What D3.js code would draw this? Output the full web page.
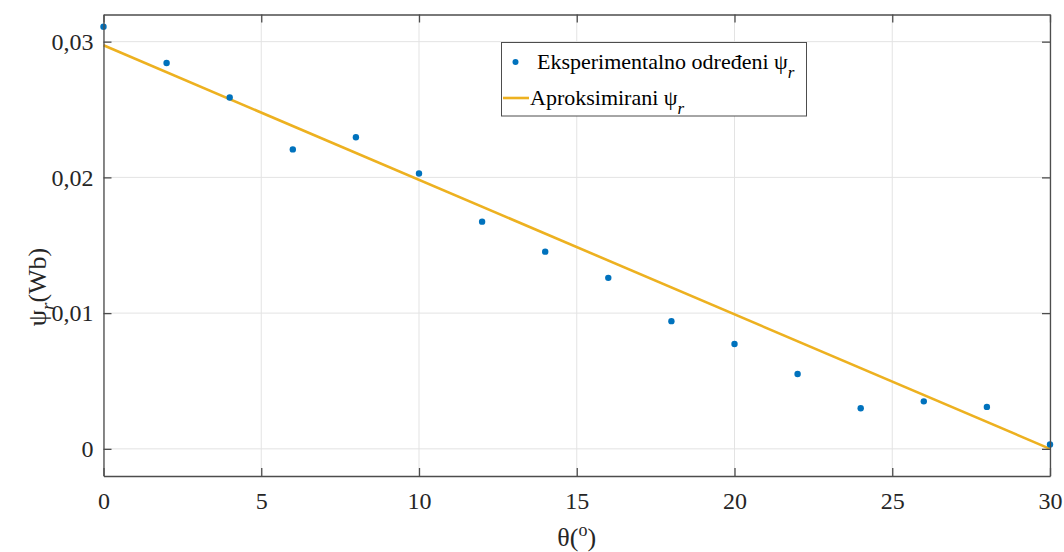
<!DOCTYPE html>
<html><head><meta charset="utf-8">
<script src="https://cdn.jsdelivr.net/npm/d3@7"></script>
<style>
html,body{margin:0;padding:0;background:#fff;}
</style></head>
<body><svg id="c" width="1064" height="552"></svg>
<script>
const thetaDeg = [0,2,4,6,8,10,12,14,16,18,20,22,24,26,28,30];
const psiMeasured = [0.03110,0.02843,0.02588,0.02206,0.02296,0.02029,0.01674,0.01453,0.01260,0.00941,0.00772,0.00551,0.00299,0.00350,0.00309,0.00032];
const fitTheta = [0,30];
const psiFit = [0.02973,0.0000];
const xTicks = [0,5,10,15,20,25,30];
const yTicks = [0,0.01,0.02,0.03];
const yTickLabels = ["0","0,01","0,02","0,03"];
const legendLabels = ["Eksperimentalno određeni ψ","Aproksimirani ψ"];

const svg = d3.select("#c");
const L=103.5, R=1050, T=14.5, B=476;
const x = d3.scaleLinear().domain([0,30]).range([L,R]);
const y = d3.scaleLinear().domain([-0.002,0.032]).range([B,T]);
const axisCol="#4d4d4d", gridCol="#e3e3e3";
const FONT="'Liberation Serif'";

// grid
const g = svg.append("g");
g.selectAll(".gx").data(xTicks).enter().append("line")
 .attr("x1",d=>x(d)).attr("x2",d=>x(d)).attr("y1",T).attr("y2",B)
 .attr("stroke",gridCol).attr("stroke-width",1);
g.selectAll(".gy").data(yTicks).enter().append("line")
 .attr("y1",d=>y(d)).attr("y2",d=>y(d)).attr("x1",L).attr("x2",R)
 .attr("stroke",gridCol).attr("stroke-width",1);

// fit line
svg.append("path").datum(fitTheta.map((t,i)=>[t,psiFit[i]]))
 .attr("d",d3.line().x(d=>x(d[0])).y(d=>y(d[1])))
 .attr("fill","none").attr("stroke","#EDB120").attr("stroke-width",2.6);

// points
svg.selectAll(".pt").data(thetaDeg).enter().append("circle")
 .attr("cx",d=>x(d)).attr("cy",(d,i)=>y(psiMeasured[i])).attr("r",3.2)
 .attr("fill","#0072BD");

// axes
const tl=-8;
const fmtY = d=>yTickLabels[yTicks.indexOf(d)];
const ax = svg.append("g").attr("transform",`translate(0,${B})`)
 .call(d3.axisBottom(x).tickValues(xTicks).tickSize(tl).tickPadding(16).tickSizeOuter(0));
const ay = svg.append("g").attr("transform",`translate(${L},0)`)
 .call(d3.axisLeft(y).tickValues(yTicks).tickFormat(fmtY).tickSize(tl).tickPadding(10).tickSizeOuter(0));
const axT = svg.append("g").attr("transform",`translate(0,${T})`)
 .call(d3.axisTop(x).tickValues(xTicks).tickFormat("").tickSize(tl).tickSizeOuter(0));
const ayR = svg.append("g").attr("transform",`translate(${R},0)`)
 .call(d3.axisRight(y).tickValues(yTicks).tickFormat("").tickSize(tl).tickSizeOuter(0));
[ax,ay,axT,ayR].forEach(a=>{
  a.selectAll("path").attr("stroke",axisCol).attr("stroke-width",1.3);
  a.selectAll("line").attr("stroke",axisCol).attr("stroke-width",1.3);
  a.selectAll("text").attr("fill","#262626").style("font-family",FONT).style("font-size","24px");
});

// axis labels
const xl = svg.append("text").attr("x",(L+R)/2).attr("y",546).attr("text-anchor","middle")
 .style("font-family",FONT).style("font-size","26px").attr("fill","#262626");
xl.append("tspan").text("θ(");
xl.append("tspan").attr("dy",-10).style("font-size","18px").text("o");
xl.append("tspan").attr("dy",10).text(")");

const yl = svg.append("text").attr("transform",`translate(46,287) rotate(-90)`).attr("text-anchor","middle")
 .style("font-family",FONT).style("font-size","26px").attr("fill","#262626");
yl.append("tspan").text("ψ");
yl.append("tspan").attr("dy",8).style("font-size","19px").style("font-style","italic").text("r");
yl.append("tspan").attr("dy",-8).text("(Wb)");

// legend
const lg = svg.append("g");
lg.append("rect").attr("x",501.5).attr("y",42.5).attr("width",305).attr("height",73.5)
 .attr("fill","#fff").attr("stroke",axisCol).attr("stroke-width",1);
lg.append("circle").attr("cx",515.5).attr("cy",62).attr("r",3).attr("fill","#0072BD");
const t1 = lg.append("text").attr("x",537).attr("y",69).style("font-family",FONT).style("font-size","22px").attr("fill","#000");
t1.append("tspan").text(legendLabels[0]);
t1.append("tspan").attr("dy",9).style("font-size","17px").style("font-style","italic").text("r");
lg.append("line").attr("x1",503).attr("x2",529).attr("y1",98).attr("y2",98)
 .attr("stroke","#EDB120").attr("stroke-width",2.6);
const t2 = lg.append("text").attr("x",530).attr("y",105).style("font-family",FONT).style("font-size","22px").attr("fill","#000");
t2.append("tspan").text(legendLabels[1]);
t2.append("tspan").attr("dy",9).style("font-size","17px").style("font-style","italic").text("r");
</script></body></html>
